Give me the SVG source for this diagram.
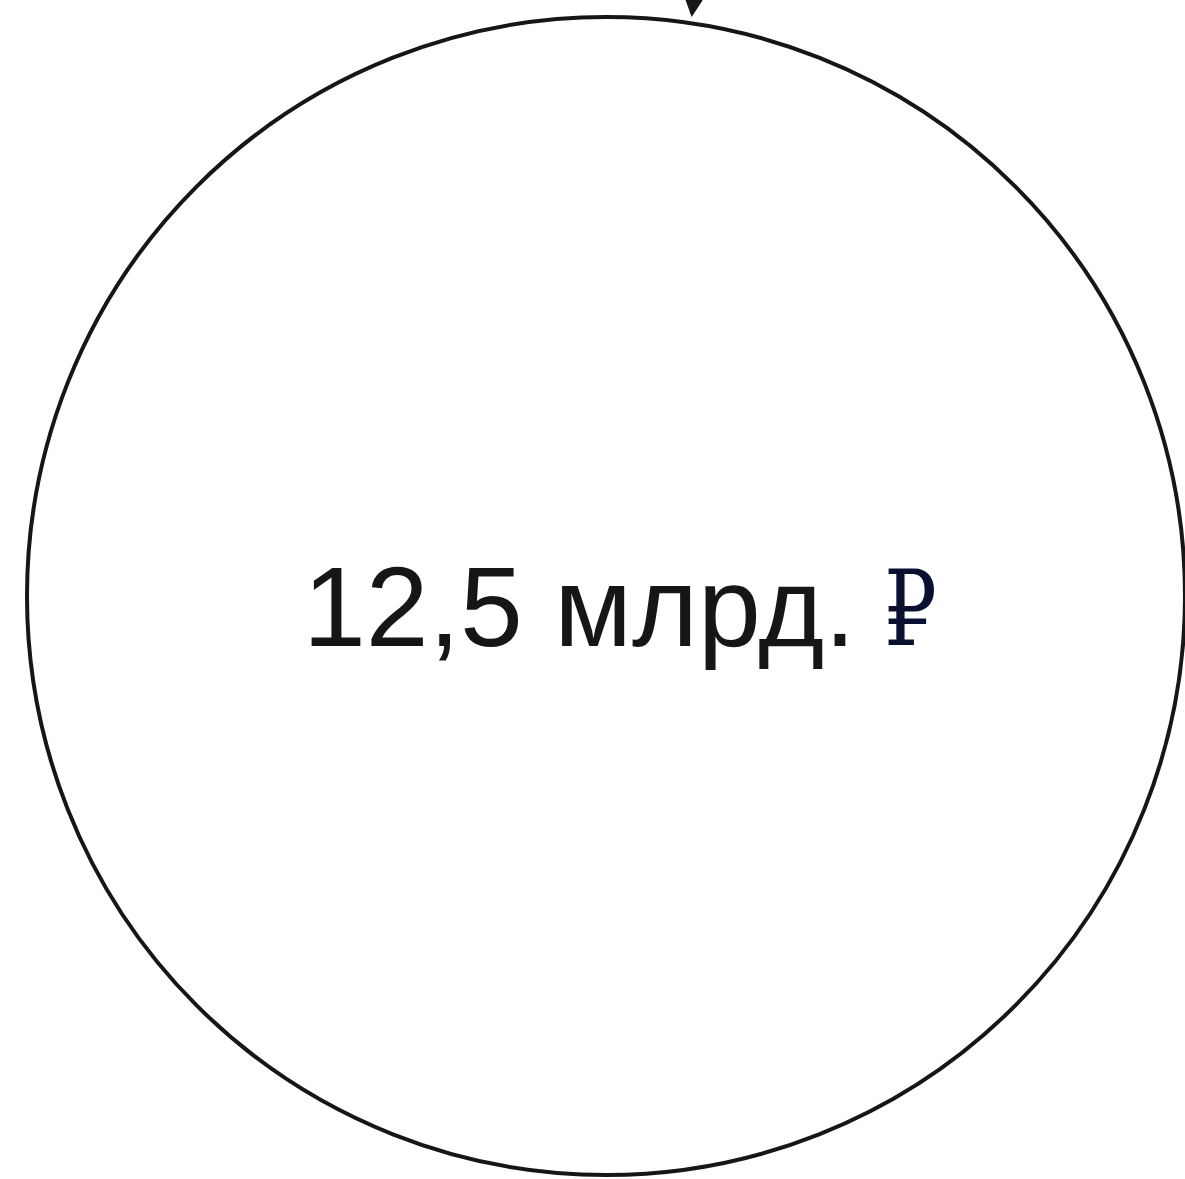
<svg xmlns="http://www.w3.org/2000/svg" width="1185" height="1179" viewBox="0 0 1185 1179">
<style>
.node{fill:#fff;stroke:#161616;stroke-width:4}
.lbl{font-family:"Liberation Sans",Arial,sans-serif;font-size:113px;fill:#161616}
.rub{font-family:"DejaVu Serif","Liberation Serif",serif;font-size:104px;fill:#0a1030}
.conn{stroke:#161616;stroke-width:3;fill:none}
</style>
<defs>
<marker id="ah" markerWidth="6" markerHeight="6" refX="5" refY="3" orient="auto" markerUnits="strokeWidth">
<path d="M0,0 L6,3 L0,6 Z" fill="#161616"/>
</marker>
</defs>
<rect width="1185" height="1179" fill="#fff"/>
<g id="node-main">
<circle class="node" cx="606" cy="596" r="579"/>
<text class="lbl" x="303" y="646">12,5 млрд.</text>
<text class="rub" transform="translate(884,645) scale(0.8,1)">₽</text>
</g>
<g id="connectors">
<path class="conn" d="M696,-20 L692,14" marker-end="url(#ah)"/>
</g>
</svg>
